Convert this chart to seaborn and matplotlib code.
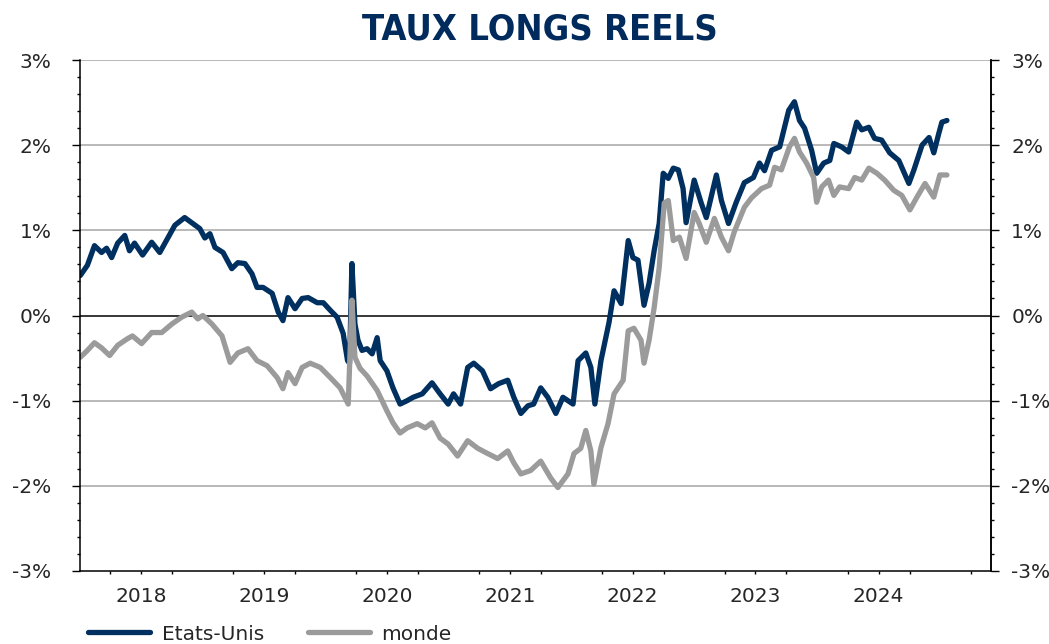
import pandas as pd
import seaborn as sns
import matplotlib.pyplot as plt
import matplotlib.dates as mdates
from matplotlib.ticker import MultipleLocator, FuncFormatter

# Etats-Unis (real 10y), values in %
us_dates = ['2018-01-02', '2018-01-23', '2018-02-13', '2018-03-06', '2018-03-21', '2018-04-05',
            '2018-04-23', '2018-05-14', '2018-05-28', '2018-06-12', '2018-07-06', '2018-08-02',
            '2018-08-26', '2018-09-19', '2018-10-10', '2018-11-08', '2018-12-02', '2018-12-23',
            '2019-01-07', '2019-01-22', '2019-02-06', '2019-03-02', '2019-03-28', '2019-04-15',
            '2019-05-06', '2019-05-27', '2019-06-11', '2019-06-29', '2019-07-26', '2019-08-13',
            '2019-08-27', '2019-09-11', '2019-10-02', '2019-10-23', '2019-11-10', '2019-12-07',
            '2019-12-25', '2020-01-15', '2020-02-04', '2020-02-22', '2020-03-06', '2020-03-12',
            '2020-03-19', '2020-03-28', '2020-04-06', '2020-04-18', '2020-05-03', '2020-05-18',
            '2020-06-02', '2020-06-11', '2020-07-01', '2020-07-19', '2020-08-09', '2020-08-30',
            '2020-09-17', '2020-10-14', '2020-11-12', '2020-12-06', '2020-12-30', '2021-01-15',
            '2021-02-05', '2021-02-26', '2021-03-16', '2021-04-11', '2021-05-05', '2021-05-29',
            '2021-06-25', '2021-07-13', '2021-08-03', '2021-08-24', '2021-09-10', '2021-10-01',
            '2021-10-22', '2021-11-15', '2021-12-06', '2022-01-05', '2022-01-20', '2022-02-12',
            '2022-02-27', '2022-03-11', '2022-03-29', '2022-04-22', '2022-05-07', '2022-05-28',
            '2022-06-18', '2022-07-02', '2022-07-17', '2022-08-04', '2022-08-19', '2022-09-03',
            '2022-09-18', '2022-09-30', '2022-10-15', '2022-10-30', '2022-11-14', '2022-11-28',
            '2022-12-07', '2022-12-31', '2023-01-21', '2023-02-05', '2023-03-07', '2023-03-22',
            '2023-04-12', '2023-05-05', '2023-05-29', '2023-06-25', '2023-07-13', '2023-07-28',
            '2023-08-18', '2023-09-11', '2023-10-08', '2023-10-25', '2023-11-09', '2023-11-24',
            '2023-12-15', '2023-12-30', '2024-01-20', '2024-02-07', '2024-02-19', '2024-03-13',
            '2024-04-03', '2024-04-27', '2024-05-12', '2024-06-02', '2024-06-19', '2024-07-10',
            '2024-08-03', '2024-08-30', '2024-09-29', '2024-10-14', '2024-11-07', '2024-11-28',
            '2024-12-12', '2024-12-27', '2025-01-05', '2025-01-20']
us_vals = [0.47, 0.59, 0.82, 0.74, 0.79, 0.68,
           0.85, 0.94, 0.76, 0.85, 0.71, 0.86,
           0.74, 0.91, 1.06, 1.15, 1.08, 1.02,
           0.91, 0.96, 0.80, 0.74, 0.55, 0.62,
           0.61, 0.49, 0.33, 0.33, 0.26, 0.04,
           -0.06, 0.21, 0.08, 0.20, 0.21, 0.15,
           0.15, 0.06, -0.02, -0.21, -0.53, -0.56,
           0.61, -0.10, -0.29, -0.41, -0.39, -0.45,
           -0.26, -0.53, -0.65, -0.85, -1.04, -1.00,
           -0.96, -0.92, -0.79, -0.92, -1.04, -0.92,
           -1.04, -0.61, -0.56, -0.65, -0.86, -0.80,
           -0.76, -0.96, -1.15, -1.06, -1.04, -0.85,
           -0.96, -1.15, -0.96, -1.04, -0.53, -0.44,
           -0.61, -1.04, -0.53, -0.08, 0.29, 0.14,
           0.88, 0.68, 0.65, 0.12, 0.38, 0.76,
           1.08, 1.67, 1.61, 1.73, 1.71, 1.49,
           1.09, 1.59, 1.32, 1.15, 1.65, 1.35,
           1.08, 1.33, 1.56, 1.62, 1.79, 1.70,
           1.94, 1.98, 2.41, 2.51, 2.29, 2.20,
           1.94, 1.67, 1.79, 1.82, 2.02, 1.98,
           1.92, 2.27, 2.18, 2.21, 2.08, 2.06,
           1.91, 1.82, 1.55, 1.71, 2.00, 2.09,
           1.91, 2.14, 2.27, 2.29]

# monde, values in %
monde_dates = ['2018-01-02', '2018-01-23', '2018-02-13', '2018-03-06', '2018-03-30', '2018-04-23',
               '2018-05-23', '2018-06-06', '2018-07-03', '2018-08-02', '2018-09-01', '2018-10-01',
               '2018-10-30', '2018-11-29', '2018-12-17', '2019-01-01', '2019-01-28', '2019-02-27',
               '2019-03-23', '2019-04-15', '2019-05-15', '2019-06-11', '2019-07-11', '2019-08-10',
               '2019-08-27', '2019-09-11', '2019-10-02', '2019-10-23', '2019-11-16', '2019-12-16',
               '2020-01-15', '2020-02-13', '2020-03-08', '2020-03-19', '2020-03-28', '2020-04-12',
               '2020-05-03', '2020-06-02', '2020-07-01', '2020-07-19', '2020-08-09', '2020-08-30',
               '2020-09-29', '2020-10-23', '2020-11-12', '2020-12-06', '2020-12-30', '2021-01-27',
               '2021-02-26', '2021-03-28', '2021-04-26', '2021-05-26', '2021-06-25', '2021-07-13',
               '2021-08-03', '2021-09-01', '2021-10-01', '2021-10-31', '2021-11-21', '2021-12-21',
               '2022-01-08', '2022-01-28', '2022-02-12', '2022-02-27', '2022-03-08', '2022-03-29',
               '2022-04-19', '2022-05-07', '2022-06-03', '2022-06-18', '2022-07-05', '2022-07-26',
               '2022-08-04', '2022-08-19', '2022-09-03', '2022-09-18', '2022-10-03', '2022-10-15',
               '2022-10-30', '2022-11-17', '2022-12-07', '2022-12-31', '2023-01-15', '2023-02-05',
               '2023-03-01', '2023-03-22', '2023-04-12', '2023-04-29', '2023-05-29', '2023-06-19',
               '2023-07-19', '2023-08-12', '2023-08-27', '2023-09-16', '2023-10-10', '2023-10-25',
               '2023-11-09', '2023-11-30', '2023-12-21', '2023-12-30', '2024-01-14', '2024-02-03',
               '2024-02-19', '2024-03-07', '2024-04-03', '2024-04-21', '2024-05-12', '2024-06-02',
               '2024-06-26', '2024-07-19', '2024-08-15', '2024-09-08', '2024-10-02', '2024-10-23',
               '2024-11-16', '2024-12-12', '2024-12-30', '2025-01-20']
monde_vals = [-0.49, -0.41, -0.32, -0.38, -0.47, -0.35,
              -0.27, -0.24, -0.33, -0.20, -0.20, -0.10,
              -0.02, 0.04, -0.04, 0.00, -0.10, -0.24,
              -0.55, -0.44, -0.39, -0.53, -0.59, -0.73,
              -0.86, -0.67, -0.80, -0.61, -0.56, -0.61,
              -0.73, -0.85, -1.04, 0.18, -0.49, -0.62,
              -0.71, -0.88, -1.12, -1.26, -1.38, -1.32,
              -1.27, -1.32, -1.26, -1.44, -1.51, -1.65,
              -1.47, -1.56, -1.62, -1.68, -1.59, -1.73,
              -1.86, -1.82, -1.71, -1.91, -2.02, -1.86,
              -1.62, -1.56, -1.35, -1.59, -1.98, -1.55,
              -1.27, -0.92, -0.76, -0.18, -0.15, -0.29,
              -0.56, -0.29, 0.09, 0.56, 1.32, 1.35,
              0.88, 0.92, 0.67, 1.21, 1.08, 0.86,
              1.14, 0.92, 0.76, 0.98, 1.27, 1.38,
              1.49, 1.53, 1.74, 1.71, 1.98, 2.08,
              1.92, 1.79, 1.62, 1.33, 1.51, 1.59,
              1.41, 1.51, 1.49, 1.62, 1.59, 1.73,
              1.67, 1.59, 1.47, 1.41, 1.24, 1.39,
              1.55, 1.39, 1.65, 1.65]

year_labels = ['2018', '2019', '2020', '2021', '2022', '2023', '2024']
title = 'TAUX LONGS REELS'

navy = '#00305F'
grey = '#9B9B9B'

sns.set_style('white')
plt.rcParams['font.family'] = ['DejaVu Sans']

us = pd.DataFrame({'date': pd.to_datetime(us_dates), 'val': us_vals})
monde = pd.DataFrame({'date': pd.to_datetime(monde_dates), 'val': monde_vals})

fig = plt.figure(figsize=(10.49, 6.44), dpi=100)
ax = fig.add_axes([80 / 1049, 1 - 571 / 644, 911 / 1049, 511 / 644])

sns.lineplot(data=us, x='date', y='val', color=navy, lw=3.8, ax=ax, label='Etats-Unis')
sns.lineplot(data=monde, x='date', y='val', color=grey, lw=3.8, ax=ax, label='monde')

ax.set_xlim(pd.Timestamp('2018-01-01'), pd.Timestamp('2025-05-31'))
ax.set_ylim(-3, 3)
ax.set_xlabel('')
ax.set_ylabel('')

# grid + zero line
for v in [-2, -1, 1, 2, 3]:
    ax.axhline(v, color='#A6A6A6', lw=1.1, zorder=0)
ax.axhline(0, color='black', lw=1.1, zorder=0)

ax.spines['top'].set_visible(False)
for s in ['left', 'right', 'bottom']:
    ax.spines[s].set_color('black')
    ax.spines[s].set_linewidth(1.1)

# x axis: year ticks + quarter ticks, label in the middle of each year
ax.xaxis.set_major_locator(mdates.YearLocator())
ax.xaxis.set_major_formatter(FuncFormatter(lambda x, pos: ''))
ax.xaxis.set_minor_locator(mdates.MonthLocator(bymonth=[4, 7, 10]))


def year_fmt(x, pos):
    d = mdates.num2date(x)
    if d.month == 7 and str(d.year) in year_labels:
        return str(d.year)
    return ''


ax.xaxis.set_minor_formatter(FuncFormatter(year_fmt))
ax.tick_params(axis='x', which='major', direction='out', length=5, width=1, color='black')
ax.tick_params(axis='x', which='minor', direction='out', length=2.5, width=1, color='black',
               labelsize=14.5, pad=9, bottom=True)

pct = FuncFormatter(lambda v, pos: f'{v:.0f}%')
ax.yaxis.set_major_locator(MultipleLocator(1))
ax.yaxis.set_minor_locator(MultipleLocator(0.2))
ax.yaxis.set_major_formatter(pct)
ax.tick_params(axis='y', which='major', direction='out', length=5.5, width=1, color='black',
               labelsize=14.5, pad=15, left=True)
ax.tick_params(axis='y', which='minor', direction='out', length=2.5, width=1, color='black', left=True)

ax2 = ax.twinx()
ax2.set_ylim(-3, 3)
ax2.yaxis.set_major_locator(MultipleLocator(1))
ax2.yaxis.set_minor_locator(MultipleLocator(0.2))
ax2.yaxis.set_major_formatter(pct)
ax2.tick_params(axis='y', which='major', direction='out', length=5.5, width=1, color='black',
                labelsize=14.5, pad=9)
ax2.tick_params(axis='y', which='minor', direction='out', length=2.5, width=1, color='black')
for s in ['top', 'left', 'bottom']:
    ax2.spines[s].set_visible(False)
ax2.spines['right'].set_color('black')
ax2.spines['right'].set_linewidth(1.1)
ax2.grid(False)

handles, labels = ax.get_legend_handles_labels()
ax.get_legend().remove()
fig.legend(handles, labels, loc='center left', bbox_to_anchor=(88 / 1049, 1 - 634 / 644),
           ncol=2, frameon=False, fontsize=14.5, handlelength=3.1, handletextpad=0.55,
           columnspacing=2.2, borderpad=0, borderaxespad=0)

fig.text(540 / 1049, 1 - 39 / 644, title, ha='center', va='baseline', fontsize=26,
         fontweight='bold', fontstretch='condensed', color='#002B5C',
         family=['DejaVu Sans'])

fig.savefig('out.png', dpi=100)
